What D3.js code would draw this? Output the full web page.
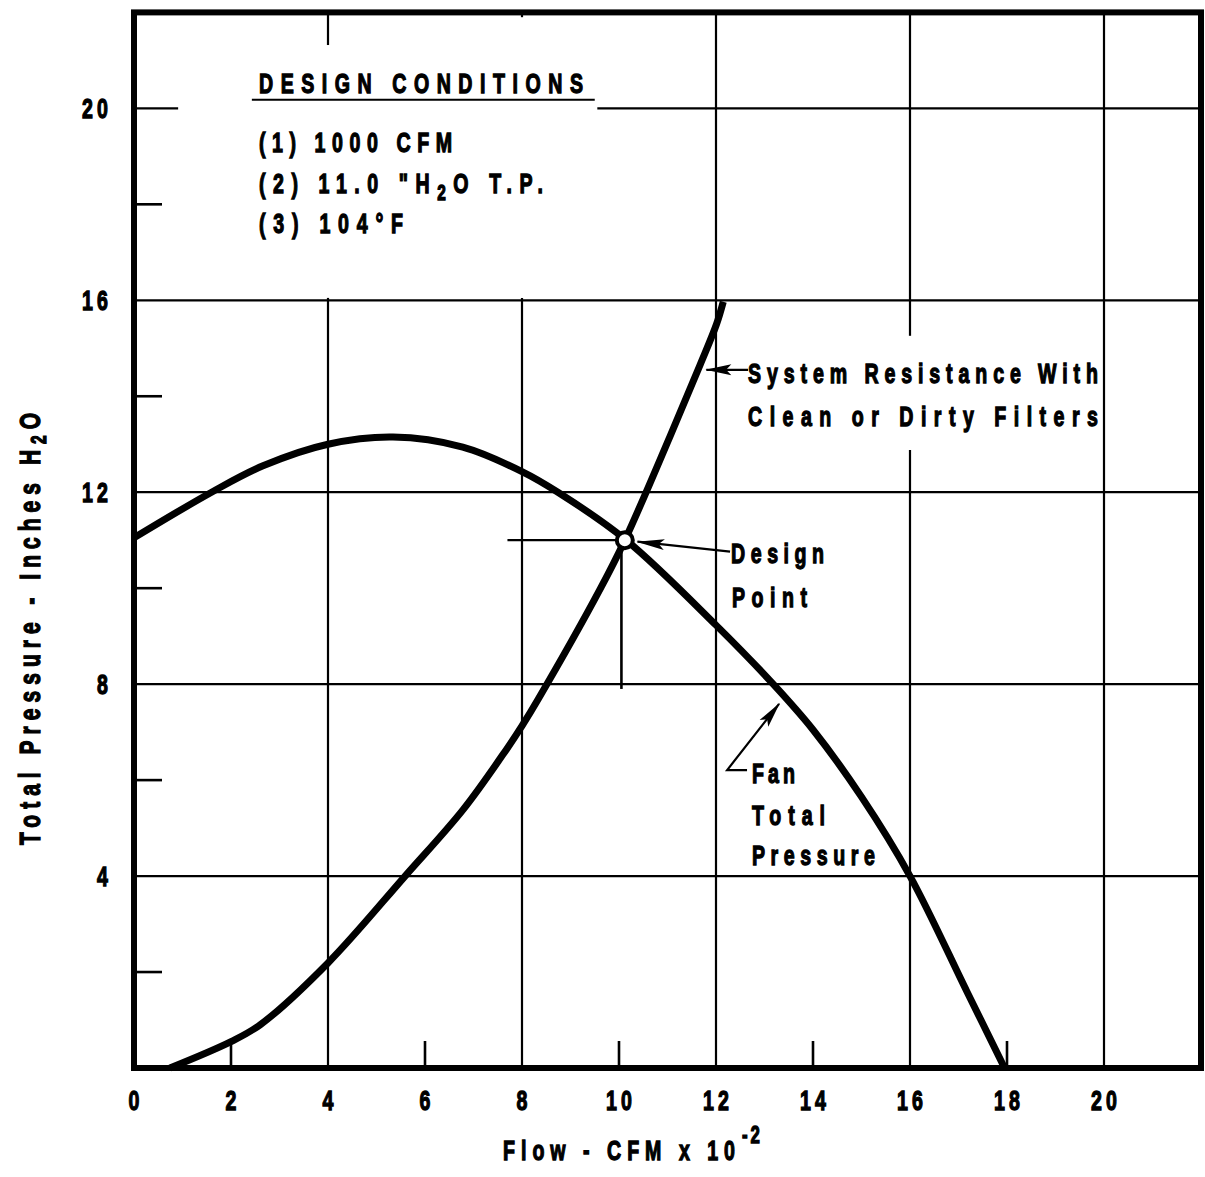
<!DOCTYPE html>
<html><head><meta charset="utf-8">
<script src="https://cdn.jsdelivr.net/npm/d3@7"></script>
<style>
html,body{margin:0;padding:0;background:#fff;}
svg{display:block;}
text{font-family:"Liberation Sans",Arial,sans-serif;font-weight:bold;fill:#000;stroke:#000;stroke-width:1.3px;}
</style></head><body>
<svg id="chart" width="1205" height="1177"></svg>
<script>
// ---- data ----
const xTickValues = [0,2,4,6,8,10,12,14,16,18,20];
const xTickLabels = ["0","2","4","6","8","10","12","14","16","18","20"];
const yTickValues = [4,8,12,16,20];
const yTickLabels = ["4","8","12","16","20"];
const xMinorTicks = [2,6,10,14,18];
const yMinorTicks = [2,6,10,14,18];
const gridX = [4,8,12,16,20];
const gridY = [4,8,12,16,20];
const fanFlow     = [0, 1.6, 2.66, 4, 5.34, 6.78, 8, 8.74, 10.15, 12, 13.18, 14, 15, 16, 17.17, 17.95];
const fanPressure = [11.05, 12.0, 12.55, 13.0, 13.15, 12.94, 12.43, 12.0, 11.0, 9.23, 8.0, 7.05, 5.65, 4.0, 1.6, 0];
const sysFlow     = [0.74, 2, 2.6, 4, 5.59, 6.79, 7.68, 8, 8.33, 9.61, 10.12, 11.05, 11.67, 12.01, 12.15];
const sysPressure = [0, 0.55, 0.9, 2.19, 4.0, 5.39, 6.64, 7.13, 7.68, 9.98, 11.0, 13.16, 14.65, 15.5, 15.97];
const designFlow = 10.12, designPressure = 11.0;
const designTitle = "DESIGN CONDITIONS";

// ---- scales ----
const svg = d3.select("#chart");
const x = d3.scaleLinear().domain([0,22]).range([134,1201]);
const y = d3.scaleLinear().domain([0,22]).range([1068,12.4]);
const SX = 0.7; // horizontal condensing of lettering

function ctext(parent, px, py, fs, anchor){
  const g = parent.append("g").attr("transform",`translate(${px},${py}) scale(${SX},1)`);
  return g.append("text").attr("x",0).attr("y",0).attr("font-size",fs).attr("text-anchor",anchor||"start");
}
function fit(sel, target){
  sel.attr("letter-spacing",0);
  const w = sel.node().getComputedTextLength();
  const n = sel.text().length;
  sel.attr("letter-spacing", (target/SX - w)/(n-1));
}
function arrowHead(g, tx, ty, fx, fy, len, half){
  const dx = tx-fx, dy = ty-fy, L = Math.hypot(dx,dy);
  const ux = dx/L, uy = dy/L, px = -uy, py = ux;
  const bx = tx-ux*len, by = ty-uy*len;
  const mx = tx-ux*len*0.8, my = ty-uy*len*0.8;
  g.append("path").attr("d",`M${tx},${ty}L${bx+px*half},${by+py*half}L${mx},${my}L${bx-px*half},${by-py*half}Z`).attr("fill","#000");
}

// ---- grid ----
const grid = svg.append("g").attr("stroke","#000").attr("stroke-width",2.2);
gridX.forEach(v=>grid.append("line").attr("x1",x(v)).attr("x2",x(v)).attr("y1",y(22)).attr("y2",y(0)));
gridY.forEach(v=>grid.append("line").attr("y1",y(v)).attr("y2",y(v)).attr("x1",x(0)).attr("x2",x(22)));

// white backgrounds for text blocks
svg.append("rect").attr("x",x(0.91)).attr("y",y(21.32)).attr("width",x(9.55)-x(0.91)).attr("height",y(16.05)-y(21.32)).attr("fill","#fff");
svg.append("rect").attr("x",x(5.5)).attr("y",y(21.9)).attr("width",x(9.55)-x(5.5)).attr("height",y(16.05)-y(21.9)).attr("fill","#fff");
svg.append("rect").attr("x",x(12.54)).attr("y",y(15.26)).attr("width",x(19.92)-x(12.54)).attr("height",y(12.88)-y(15.26)).attr("fill","#fff");

// minor ticks
const ticks = svg.append("g").attr("stroke","#000").attr("stroke-width",2.6);
xMinorTicks.forEach(v=>ticks.append("line").attr("x1",x(v)).attr("x2",x(v)).attr("y1",y(0)).attr("y2",y(0)-27));
yMinorTicks.forEach(v=>ticks.append("line").attr("y1",y(v)).attr("y2",y(v)).attr("x1",x(0)).attr("x2",x(0)+28));

// ---- curves ----
const line = d3.line().x(d=>x(d[0])).y(d=>y(d[1])).curve(d3.curveCatmullRom.alpha(0.5));
svg.append("path").datum(fanFlow.map((f,i)=>[f,fanPressure[i]])).attr("d",line)
  .attr("fill","none").attr("stroke","#000").attr("stroke-width",7);
svg.append("path").datum(sysFlow.map((f,i)=>[f,sysPressure[i]])).attr("d",line)
  .attr("fill","none").attr("stroke","#000").attr("stroke-width",7);

// design point cross lines
svg.append("line").attr("x1",x(7.7)).attr("x2",x(designFlow)).attr("y1",y(designPressure)).attr("y2",y(designPressure)).attr("stroke","#000").attr("stroke-width",2.2);
svg.append("line").attr("x1",x(10.05)).attr("x2",x(10.05)).attr("y1",y(designPressure)).attr("y2",y(7.9)).attr("stroke","#000").attr("stroke-width",2.6);
svg.append("circle").attr("cx",x(designFlow)).attr("cy",y(designPressure)).attr("r",8).attr("fill","#fff").attr("stroke","#000").attr("stroke-width",4);

// ---- frame ----
svg.append("rect").attr("x",x(0)).attr("y",y(22)).attr("width",x(22)-x(0)).attr("height",y(0)-y(22))
  .attr("fill","none").attr("stroke","#000").attr("stroke-width",6);

// ---- tick labels ----
const FS = 28;
xTickValues.forEach((v,i)=>{
  const ls = xTickLabels[i].length>1 ? 6 : 0;
  ctext(svg, x(v)+ls*SX/2, 1110, FS, "middle").attr("letter-spacing",ls).text(xTickLabels[i]);
});
yTickValues.forEach((v,i)=>{
  const ls = yTickLabels[i].length>1 ? 6 : 0;
  ctext(svg, 108+ls*SX, y(v)+10, FS, "end").attr("letter-spacing",ls).text(yTickLabels[i]);
});

// ---- axis titles ----
const xt = ctext(svg, 503, 1160, FS).text("Flow - CFM x 10");
fit(xt, 232);
ctext(svg, 742, 1143, 24).attr("letter-spacing",4).text("-2");

const ytg = svg.append("g").attr("transform",`translate(40,845) rotate(-90) scale(${SX},1)`);
const yt = ytg.append("text").attr("font-size",30);
yt.append("tspan").text("Total Pressure - Inches H");
yt.append("tspan").attr("font-size",22).attr("dy",6).text("2");
yt.append("tspan").attr("dy",-6).text("O");
fit(yt, 432);

// ---- design conditions block ----
const dt = ctext(svg, x(2.577), y(20.32), FS).text(designTitle);
fit(dt, 324);
svg.append("line").attr("x1",x(2.43)).attr("x2",x(9.5)).attr("y1",y(20.18)).attr("y2",y(20.18)).attr("stroke","#000").attr("stroke-width",2.2);
const l1 = ctext(svg, x(2.577), y(19.09), FS).text("(1) 1000 CFM");
fit(l1, 193);
const l2 = ctext(svg, x(2.577), y(18.24), FS);
l2.append("tspan").text("(2) 11.0 \"H");
l2.append("tspan").attr("font-size",22).attr("dy",7).text("2");
l2.append("tspan").attr("dy",-7).text("O T.P.");
fit(l2, 284);
const l3 = ctext(svg, x(2.577), y(17.40), FS).text("(3) 104°F");
fit(l3, 144);

// ---- annotations ----
const ann = svg.append("g");
const s1 = ctext(ann, x(12.66), y(14.28), FS).text("System Resistance With");
fit(s1, 350);
const s2 = ctext(ann, x(12.66), y(13.37), FS).text("Clean or Dirty Filters");
fit(s2, 350);
ann.append("line").attr("x1",x(12.66)).attr("y1",y(14.55)).attr("x2",x(11.8)).attr("y2",y(14.55)).attr("stroke","#000").attr("stroke-width",2.2);
arrowHead(ann, x(11.78), y(14.55), x(12.66), y(14.55), 26, 5.5);

const d1 = ctext(ann, x(12.31), y(10.53), FS).text("Design");
fit(d1, 93);
const d2 = ctext(ann, x(12.33), y(9.61), FS).text("Point");
fit(d2, 75);
ann.append("line").attr("x1",x(12.29)).attr("y1",y(10.76)).attr("x2",x(10.38)).attr("y2",y(10.97)).attr("stroke","#000").attr("stroke-width",2.2);
arrowHead(ann, x(10.36), y(10.97), x(12.29), y(10.76), 28, 5.5);

const f1 = ctext(ann, x(12.74), y(5.94), FS).text("Fan");
fit(f1, 43);
const f2 = ctext(ann, x(12.74), y(5.06), FS).text("Total");
fit(f2, 73);
const f3 = ctext(ann, x(12.74), y(4.23), FS).text("Pressure");
fit(f3, 123);
ann.append("path").attr("d",`M${x(12.64)},${y(6.21)}L${x(12.23)},${y(6.21)}L${x(13.3)},${y(7.59)}`)
  .attr("fill","none").attr("stroke","#000").attr("stroke-width",2.2);
arrowHead(ann, x(13.32), y(7.61), x(12.23), y(6.21), 26, 5.5);
</script>
</body></html>
